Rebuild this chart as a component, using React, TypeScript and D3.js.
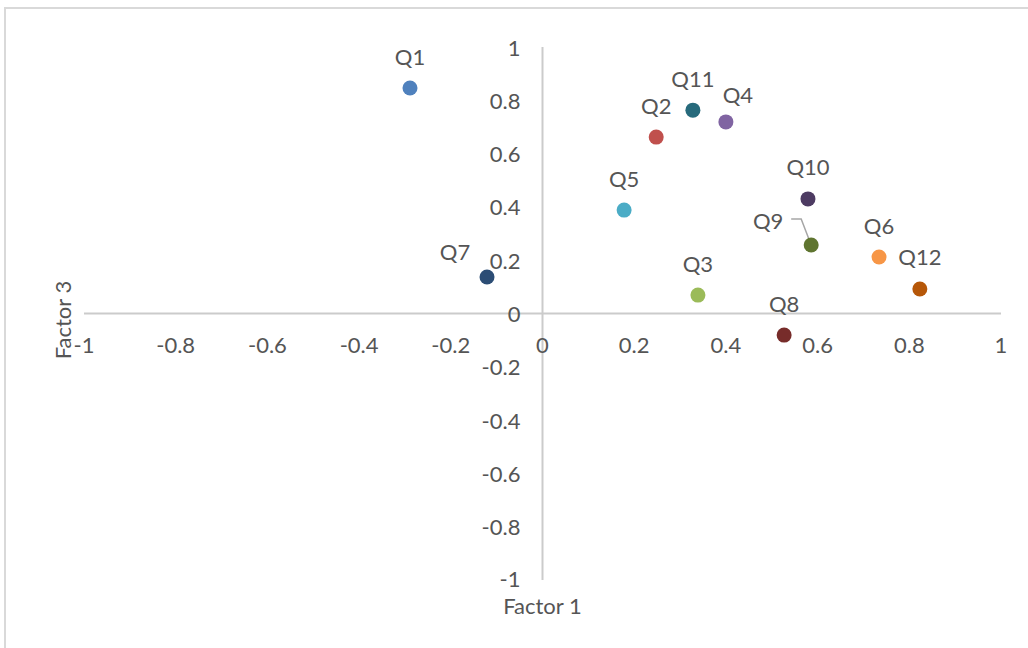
import React from "react";
import * as d3 from "d3";

const names = ["Q1", "Q2", "Q3", "Q4", "Q5", "Q6", "Q7", "Q8", "Q9", "Q10", "Q11", "Q12"];
const factor1 = [-0.289, 0.248, 0.339, 0.4, 0.178, 0.734, -0.121, 0.527, 0.586, 0.579, 0.328, 0.823];
const factor3 = [0.846, 0.662, 0.069, 0.719, 0.388, 0.212, 0.137, -0.081, 0.257, 0.43, 0.763, 0.092];
const colors = ["#4F81BD", "#C0504D", "#9BBB59", "#8064A2", "#4BACC6", "#F79646", "#2C4D75", "#772C2A", "#5F7530", "#4D3B62", "#276A7C", "#B65708"];
const xTicks = [-1, -0.8, -0.6, -0.4, -0.2, 0, 0.2, 0.4, 0.6, 0.8, 1];
const yTicks = [-1, -0.8, -0.6, -0.4, -0.2, 0, 0.2, 0.4, 0.6, 0.8, 1];

// label placement offsets (dx, dy of label centre relative to point)
const labelOffsets: Record<string, [number, number]> = {
  Q4: [12, -27],
  Q7: [-32, -25],
  Q9: [-43, -25],
};

export default function App() {
  const x = d3.scaleLinear().domain([-1, 1]).range([84, 1001]);
  const y = d3.scaleLinear().domain([-1, 1]).range([580, 47]);
  const font = "Lato, 'Open Sans', sans-serif";
  const textColor = "#555555";
  const fs = 22;
  const fmt = (v: number) => (Math.abs(v) < 1e-9 ? "0" : String(+v.toFixed(1)));

  return (
    <svg width={1028} height={648} style={{ position: "absolute", left: 0, top: 0 }} fontFamily={font}>
      <rect x={0} y={0} width={1028} height={648} fill="#fff" />
      <rect x={5} y={8} width={1040} height={660} fill="#fff" stroke="#d9d9d9" strokeWidth={2} />
      {/* axes */}
      <line x1={x(-1)} x2={x(1)} y1={y(0)} y2={y(0)} stroke="#cbcbcb" strokeWidth={2} />
      <line x1={x(0)} x2={x(0)} y1={y(1)} y2={y(-1)} stroke="#cbcbcb" strokeWidth={2} />
      {xTicks.map((t) => (
        <text key={"x" + t} x={x(t)} y={y(0) + 31} textAnchor="middle" dominantBaseline="central" fontSize={fs} fill={textColor}>
          {fmt(t)}
        </text>
      ))}
      {yTicks.map((t) => (
        <text key={"y" + t} x={x(0) - 22} y={y(t) - (t === -1 ? 2 : 0)} textAnchor="end" dominantBaseline="central" fontSize={fs} fill={textColor}>
          {fmt(t)}
        </text>
      ))}
      <text x={x(0)} y={605} textAnchor="middle" dominantBaseline="central" fontSize={fs} fill={textColor}>
        Factor 1
      </text>
      <text
        transform={`translate(62,320) rotate(-90)`}
        textAnchor="middle"
        dominantBaseline="central"
        fontSize={fs}
        fill={textColor}
      >
        Factor 3
      </text>
      {/* leader line for Q9 */}
      {names.map((n, i) =>
        n === "Q9" ? (
          <polyline
            key="leader"
            points={`${x(factor1[i]) - 20},${y(factor3[i]) - 26} ${x(factor1[i]) - 10},${y(factor3[i]) - 26} ${x(factor1[i])},${y(factor3[i])}`}
            fill="none"
            stroke="#a6a6a6"
            strokeWidth={1.5}
          />
        ) : null
      )}
      {names.map((n, i) => (
        <circle key={n} cx={x(factor1[i])} cy={y(factor3[i])} r={7.5} fill={colors[i]} />
      ))}
      {names.map((n, i) => {
        const off = labelOffsets[n] || [0, -32];
        return (
          <text
            key={"l" + n}
            x={x(factor1[i]) + off[0]}
            y={y(factor3[i]) + off[1]}
            textAnchor="middle"
            dominantBaseline="central"
            fontSize={fs}
            fill={textColor}
          >
            {n}
          </text>
        );
      })}
    </svg>
  );
}
